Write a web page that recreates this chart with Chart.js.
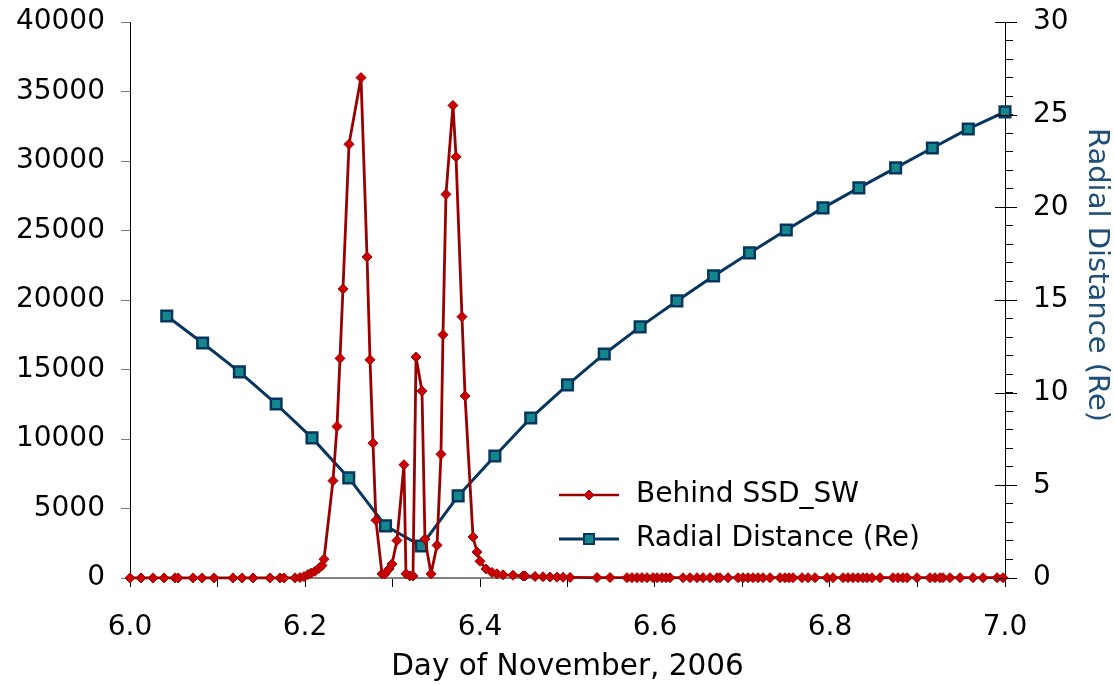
<!DOCTYPE html>
<html>
<head>
<meta charset="utf-8">
<script src="https://cdn.jsdelivr.net/npm/chart.js@4/dist/chart.umd.min.js"></script>
<style>
  body { margin: 0; background: #fff; }
  #wrap { width: 1114px; height: 685px; }
</style>
</head>
<body>
<div id="wrap"><canvas id="myChart" width="1114" height="685"></canvas></div>
<script>
// Behind SSD_SW counts (day of November 2006)
var ssdDay = [6.000, 6.0126, 6.0263, 6.0389, 6.0514, 6.0549, 6.0720, 6.0823, 6.0960, 6.1177,
  6.1280, 6.1406, 6.1600, 6.1714, 6.1760, 6.1886, 6.1943, 6.1989, 6.2034, 6.2069,
  6.2114, 6.2160, 6.2194, 6.2217, 6.2320, 6.2366, 6.2400, 6.2434, 6.2503, 6.2640,
  6.2709, 6.2743, 6.2777, 6.2811, 6.2880, 6.2914, 6.2960, 6.2994, 6.3051, 6.3131,
  6.3154, 6.3200, 6.3234, 6.3269, 6.3337, 6.3371, 6.3440, 6.3509, 6.3554, 6.3577,
  6.3611, 6.3691, 6.3726, 6.3794, 6.3829, 6.3920, 6.3966, 6.4000, 6.4069, 6.4137,
  6.4194, 6.4263, 6.4377, 6.4491, 6.4514, 6.4629, 6.4720, 6.4800, 6.4880, 6.4949,
  6.5029, 6.5337, 6.5486, 6.5680, 6.5737, 6.5794, 6.5851, 6.5909, 6.5977, 6.6023,
  6.6080, 6.6126, 6.6171, 6.6320, 6.6400, 6.6480, 6.6549, 6.6629, 6.6709, 6.6743,
  6.6834, 6.6949, 6.7006, 6.7063, 6.7120, 6.7177, 6.7234, 6.7314, 6.7429, 6.7486,
  6.7531, 6.7577, 6.7680, 6.7749, 6.7829, 6.7966, 6.8034, 6.8149, 6.8206, 6.8263,
  6.8320, 6.8377, 6.8423, 6.8480, 6.8571, 6.8720, 6.8777, 6.8834, 6.8880, 6.8994,
  6.9143, 6.9200, 6.9257, 6.9291, 6.9371, 6.9486, 6.9634, 6.9749, 6.9909, 6.9977];
var ssdCount = [5, 5, 5, 5, 5, 5, 5, 5, 5, 5,
  5, 5, 5, 5, 5, 10, 30, 100, 250, 350,
  480, 700, 900, 1350, 7000, 10900, 15800, 20800, 31200, 36000,
  23100, 15700, 9700, 4150, 300, 300, 650, 1000, 2700, 8150,
  300, 150, 150, 15900, 13450, 2800, 300, 2350, 8900, 17500,
  27600, 34000, 30300, 18800, 13100, 2950, 1870, 1200, 650, 400,
  300, 230, 200, 150, 150, 110, 90, 70, 60, 50,
  40, 30, 30, 25, 25, 25, 25, 25, 25, 20,
  20, 20, 20, 20, 20, 20, 20, 20, 20, 20,
  20, 20, 20, 20, 20, 20, 20, 20, 20, 20,
  20, 20, 20, 20, 20, 20, 20, 20, 20, 20,
  20, 20, 20, 20, 20, 20, 20, 20, 20, 20,
  20, 20, 20, 20, 20, 20, 20, 20, 20, 20];

// Radial distance, hourly samples
var radialDay = [6.042, 6.083, 6.125, 6.167, 6.208, 6.250, 6.292, 6.333, 6.375, 6.417,
  6.458, 6.500, 6.542, 6.583, 6.625, 6.667, 6.708, 6.750, 6.792, 6.833,
  6.875, 6.917, 6.958, 7.000];
var radialRe = [14.14, 12.68, 11.12, 9.39, 7.56, 5.40, 2.81, 1.73, 4.43, 6.58,
  8.63, 10.42, 12.09, 13.55, 14.95, 16.30, 17.54, 18.78, 19.97, 21.05,
  22.13, 23.20, 24.23, 25.15];

var fontFamily = "'DejaVu Sans', Verdana, sans-serif";
Chart.defaults.font.family = fontFamily;
Chart.defaults.color = '#000';

var redLine = '#990000', redFill = '#cc0000';
var navy = '#06365f', teal = '#14878c';

function toPoints(xs, ys) {
  return xs.map(function (x, i) { return { x: x, y: ys[i] }; });
}

// legend drawn inside the plot, lower right, plus the right axis title
var innerLegend = {
  id: 'innerLegend',
  afterDraw: function (chart) {
    var ctx = chart.ctx;
    var items = [
      { text: 'Behind SSD_SW', y: 495, line: redLine, shape: 'diamond' },
      { text: 'Radial Distance (Re)', y: 539, line: navy, shape: 'square' }
    ];
    ctx.save();
    items.forEach(function (it) {
      ctx.strokeStyle = it.line;
      ctx.lineWidth = it.shape === 'square' ? 3 : 2.5;
      ctx.beginPath();
      ctx.moveTo(559, it.y);
      ctx.lineTo(619, it.y);
      ctx.stroke();
      ctx.beginPath();
      if (it.shape === 'diamond') {
        ctx.moveTo(589, it.y - 5); ctx.lineTo(594, it.y); ctx.lineTo(589, it.y + 5); ctx.lineTo(584, it.y);
        ctx.closePath();
        ctx.fillStyle = redFill; ctx.fill();
        ctx.strokeStyle = redLine; ctx.lineWidth = 1; ctx.stroke();
      } else {
        ctx.rect(584, it.y - 5, 10, 10);
        ctx.fillStyle = teal; ctx.fill();
        ctx.strokeStyle = navy; ctx.lineWidth = 2; ctx.stroke();
      }
      ctx.fillStyle = '#000';
      ctx.font = '28px ' + fontFamily;
      ctx.textBaseline = 'middle';
      ctx.textAlign = 'left';
      ctx.fillText(it.text, 636, it.y);
    });

    ctx.translate(1097, 275);
    ctx.rotate(Math.PI / 2);
    ctx.fillStyle = '#1f4e79';
    ctx.font = '29px ' + fontFamily;
    ctx.textAlign = 'center';
    ctx.textBaseline = 'middle';
    ctx.fillText('Radial Distance (Re)', 0, 0);
    ctx.restore();
  }
};

// major ticks on the right axis cross the axis line
var crossTicks = {
  id: 'crossTicks',
  afterDraw: function (chart) {
    var s = chart.scales.y2, ctx = chart.ctx;
    ctx.save();
    ctx.strokeStyle = '#000';
    ctx.lineWidth = 1;
    for (var v = 0; v <= 30; v += 5) {
      var py = Math.round(s.getPixelForValue(v)) + 0.5;
      ctx.beginPath();
      ctx.moveTo(s.left - 10, py);
      ctx.lineTo(s.left + 12, py);
      ctx.stroke();
    }
    ctx.restore();
  }
};

var ctx = document.getElementById('myChart').getContext('2d');
var myChart = new Chart(ctx, {
  type: 'line',
  data: {
    datasets: [{
      label: 'Behind SSD_SW',
      data: toPoints(ssdDay, ssdCount),
      yAxisID: 'y',
      borderColor: redLine,
      borderWidth: 2.8,
      borderJoinStyle: 'round',
      backgroundColor: redFill,
      pointStyle: 'rectRot',
      pointRadius: 5,
      pointBorderColor: redLine,
      pointBorderWidth: 1,
      pointBackgroundColor: redFill,
      tension: 0,
      clip: false
    }, {
      label: 'Radial Distance (Re)',
      data: toPoints(radialDay, radialRe),
      yAxisID: 'y2',
      borderColor: navy,
      borderWidth: 3,
      borderJoinStyle: 'round',
      backgroundColor: teal,
      pointStyle: 'rect',
      pointRadius: 7.5,
      pointBorderColor: navy,
      pointBorderWidth: 2.5,
      pointBackgroundColor: teal,
      tension: 0,
      clip: false
    }]
  },
  options: {
    responsive: false,
    animation: false,
    layout: { padding: { top: 22, left: 0, right: 0, bottom: 0 } },
    plugins: {
      legend: { display: false },
      tooltip: { enabled: false }
    },
    scales: {
      x: {
        type: 'linear',
        min: 6, max: 7,
        grid: { drawOnChartArea: false, tickLength: 9, tickColor: '#000', tickWidth: 1 },
        border: { color: '#808080', width: 2 },
        ticks: {
          stepSize: 0.1, autoSkip: false, maxRotation: 0,
          padding: 24,
          font: { size: 28 },
          callback: function (v) { return Math.round(v * 10) % 2 === 0 ? v.toFixed(1) : ''; }
        },
        title: { display: true, text: 'Day of November, 2006', font: { size: 29.5 }, padding: { top: 0, bottom: 0 } },
        afterFit: function (scale) { scale.height = 107; }
      },
      y: {
        position: 'left',
        min: 0, max: 40000,
        grid: { drawOnChartArea: false, tickLength: 9, tickColor: '#808080' },
        border: { color: '#000', width: 1 },
        ticks: {
          stepSize: 5000, padding: 16, font: { size: 28 },
          callback: function (v) { return String(v); }
        },
        afterFit: function (scale) { scale.width = 130; scale.paddingTop = 0; scale.paddingBottom = 0; }
      },
      y2: {
        position: 'right',
        min: 0, max: 30,
        grid: { drawOnChartArea: false, tickLength: 8, tickColor: '#000' },
        border: { color: '#000', width: 1 },
        ticks: {
          stepSize: 1, autoSkip: false, padding: 20, font: { size: 28 },
          callback: function (v) { return v % 5 === 0 ? String(v) : ''; }
        },
        afterFit: function (scale) { scale.width = 109; scale.paddingTop = 0; scale.paddingBottom = 0; }
      }
    }
  },
  plugins: [innerLegend, crossTicks]
});
</script>
</body>
</html>
